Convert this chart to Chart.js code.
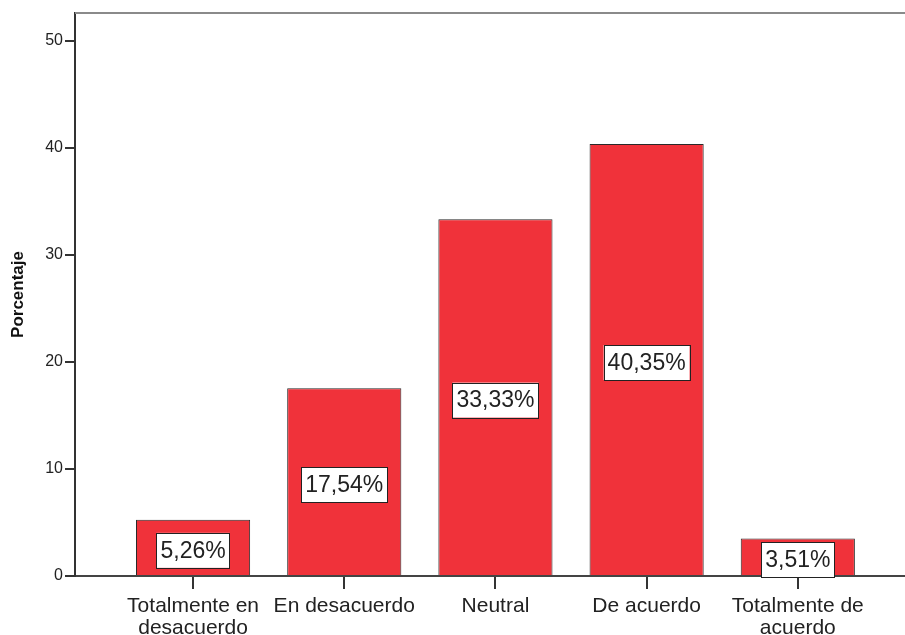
<!DOCTYPE html>
<html>
<head>
<meta charset="utf-8">
<title>Porcentaje</title>
<script src="https://cdn.jsdelivr.net/npm/chart.js"></script>
<style>
  body { margin: 0; padding: 0; background: #fff; overflow: hidden; }
  #wrap { width: 905px; height: 635px; position: relative; }
</style>
</head>
<body>
<div id="wrap"><canvas id="chart"></canvas></div>
<script>
// data
const categories = [
  ["Totalmente en", "desacuerdo"],
  ["En desacuerdo"],
  ["Neutral"],
  ["De acuerdo"],
  ["Totalmente de", "acuerdo"]
];
const percentages = [5.26, 17.54, 33.33, 40.35, 3.51];
const yTicks = [0, 10, 20, 30, 40, 50];

const FONT = "'Liberation Sans', Arial, sans-serif";

// white boxed value labels in the middle of each bar
const boxLabels = {
  id: 'boxLabels',
  afterDatasetsDraw(chart) {
    const ctx = chart.ctx;
    const meta = chart.getDatasetMeta(0);
    ctx.save();
    ctx.font = '23px ' + FONT;
    ctx.textAlign = 'center';
    ctx.textBaseline = 'middle';
    meta.data.forEach((bar, i) => {
      const text = percentages[i].toFixed(2).replace('.', ',') + '%';
      const w = ctx.measureText(text).width + 8;
      const h = 35;
      const cx = bar.x;
      const cy = (bar.y + bar.base) / 2 + 3;
      ctx.fillStyle = '#fff';
      ctx.fillRect(cx - w / 2, cy - h / 2, w, h);
      ctx.strokeStyle = '#222';
      ctx.lineWidth = 1;
      ctx.strokeRect(Math.round(cx - w / 2) + 0.5, Math.round(cy - h / 2) + 0.5, Math.round(w), h);
      ctx.fillStyle = '#222';
      ctx.fillText(text, cx, cy + 1);
    });
    ctx.restore();
  }
};

// grey frame line along the top of the plot
const topFrame = {
  id: 'topFrame',
  beforeDatasetsDraw(chart) {
    const { ctx, chartArea } = chart;
    ctx.save();
    ctx.strokeStyle = '#8a8a8a';
    ctx.lineWidth = 2;
    ctx.beginPath();
    ctx.moveTo(chartArea.left, chartArea.top);
    ctx.lineTo(chartArea.right, chartArea.top);
    ctx.stroke();
    ctx.restore();
  }
};

new Chart(document.getElementById('chart'), {
  type: 'bar',
  data: {
    datasets: [{
      data: percentages.map((v, i) => ({ x: i, y: v })),
      backgroundColor: '#f0323a',
      borderColor: '#2a2a2a',
      borderWidth: 1,
      barPercentage: 0.755,
      categoryPercentage: 1
    }]
  },
  options: {
    responsive: true,
    maintainAspectRatio: false,
    animation: false,
    layout: { padding: { top: 13, right: 0, left: 0, bottom: 0 } },
    plugins: {
      legend: { display: false },
      tooltip: { enabled: false }
    },
    scales: {
      x: {
        type: 'linear',
        offset: false,
        min: -0.781,
        max: 4.709,
        afterBuildTicks: (scale) => {
          scale.ticks = categories.map((c, i) => ({ value: i }));
        },
        afterFit: (scale) => { scale.height = 59; },
        grid: {
          display: true,
          offset: false,
          drawOnChartArea: false,
          drawTicks: true,
          tickLength: 13,
          color: '#333',
          lineWidth: 2
        },
        border: { display: true, color: '#444', width: 2 },
        ticks: {
          autoSkip: false,
          maxRotation: 0,
          minRotation: 0,
          padding: 6,
          color: '#222',
          font: { family: FONT, size: 21, lineHeight: 1.05 },
          callback: (value) => categories[value]
        }
      },
      y: {
        min: 0,
        max: 52.6,
        afterBuildTicks: (scale) => {
          scale.ticks = yTicks.map(v => ({ value: v }));
        },
        afterFit: (scale) => { scale.width = 75; },
        grid: {
          display: true,
          drawOnChartArea: false,
          drawTicks: true,
          tickLength: 10,
          color: '#333',
          lineWidth: 2
        },
        border: { display: true, color: '#333', width: 2 },
        ticks: {
          padding: 2,
          color: '#222',
          font: { family: FONT, size: 16 }
        },
        title: {
          display: true,
          text: 'Porcentaje',
          color: '#111',
          padding: { top: 8, bottom: 0 },
          font: { family: FONT, size: 17, weight: 'bold' }
        }
      }
    }
  },
  plugins: [topFrame, boxLabels]
});
</script>
</body>
</html>
